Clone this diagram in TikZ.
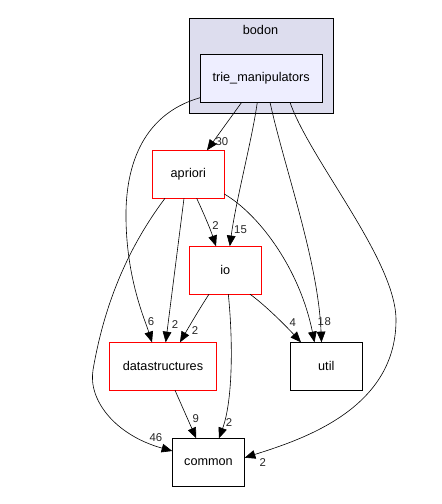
\documentclass[tikz,border=0pt]{standalone}
\usepackage{fontspec}
\setmainfont{Liberation Sans}
\usetikzlibrary{arrows.meta}
\definecolor{clusterfill}{HTML}{DDDDEE}
\definecolor{triefill}{HTML}{EEEEFF}
\begin{document}
\begin{tikzpicture}[x=0.75pt,y=-0.75pt,
 box/.style={draw=black,line width=0.75pt,inner sep=0pt,outer sep=0pt,minimum height=36pt,minimum width=54pt,font=\fontsize{9.5}{11}\selectfont},
 redbox/.style={box,draw=red},
 edge/.style={draw=black,line width=0.45pt,-{Triangle[length=8pt,width=6.5pt]}},
 elabel/.style={font=\fontsize{8.5}{10}\selectfont,inner sep=0pt,text=black!85}
]
\useasboundingbox[fill=white] (0,0) rectangle (442,504);
% cluster
\node[draw=black,line width=0.75pt,fill=clusterfill,minimum width=108pt,minimum height=71.25pt,inner sep=0pt,outer sep=0pt] (bodon) at (261.3,65.8) {};
\node[font=\fontsize{9.5}{11}\selectfont,inner sep=0pt] (bodonlbl) at (260.5,30) {bodon};
% nodes
\node[box,fill=triefill,minimum width=91.7pt] (trie) at (261.2,78.3) {trie\_manipulators};
\node[redbox] (apriori) at (188.3,174.3) {apriori};
\node[redbox] (io) at (225.3,270.2) {io};
\node[redbox,minimum width=80.5pt] (ds) at (163,366.3) {datastructures};
\node[box] (util) at (326.3,366.3) {util};
\node[box,minimum width=54.3pt] (common) at (208.5,462.3) {common};
% edges
\draw[edge] (trie.south -| 241.7,0) -- (apriori.north -| 207,0);
\draw[edge] (trie.south -| 257.3,0) .. controls (252,140) and (236,200) .. (io.north -| 229.8,0);
\draw[edge] (trie.south -| 270,0) .. controls (285,170) and (318,260) .. (util.north -| 321.5,0);
\draw[edge] (trie.south -| 290,0) .. controls (310,160) and (396,260) .. (396,320) .. controls (396,410) and (300,440) .. (common.east |- 0,457.7);
\draw[edge] (trie.west |- 0,97.7) .. controls (140,115) and (125,170) .. (126,220) .. controls (127,280) and (145,320) .. (ds.north -| 152,0);
\draw[edge] (apriori.south -| 196.7,0) .. controls (203,212) and (210,228) .. (io.north -| 216,0);
\draw[edge] (apriori.south -| 184,0) -- (ds.north -| 165.7,0);
\draw[edge] (apriori.south -| 165,0) .. controls (130,245) and (105,300) .. (93,370) .. controls (88,400) and (115,435) .. (common.west |- 0,451);
\draw[edge] (apriori.east |- 0,194) .. controls (260,215) and (300,270) .. (util.north -| 314.5,0);
\draw[edge] (io.south -| 209,0) .. controls (200,308) and (190,325) .. (ds.north -| 180,0);
\draw[edge] (io.south -| 250,0) .. controls (265,305) and (285,325) .. (util.north -| 301,0);
\draw[edge] (io.south -| 228.3,0) .. controls (233,340) and (233,400) .. (common.north -| 219,0);
\draw[edge] (ds.south -| 175,0) -- (common.north -| 196.2,0);
% labels
\node[elabel] (l1) at (222,141.5) {30};
\node[elabel] (l2) at (240.5,230) {15};
\node[elabel] (l3) at (327.7,321.7) {8};
\node[elabel] (l4) at (262.7,462.7) {2};
\node[elabel] (l5) at (151,321.7) {6};
\node[elabel] (l6) at (215.5,226) {2};
\node[elabel] (l7) at (175,325) {2};
\node[elabel] (l8) at (156,437.3) {46};
\node[elabel] (l9) at (320.7,321.7) {1};
\node[elabel] (l10) at (195,330.7) {2};
\node[elabel] (l11) at (292.7,322.3) {4};
\node[elabel] (l12) at (229,422.7) {2};
\node[elabel] (l13) at (195.7,418.3) {9};
\end{tikzpicture}
\end{document}
